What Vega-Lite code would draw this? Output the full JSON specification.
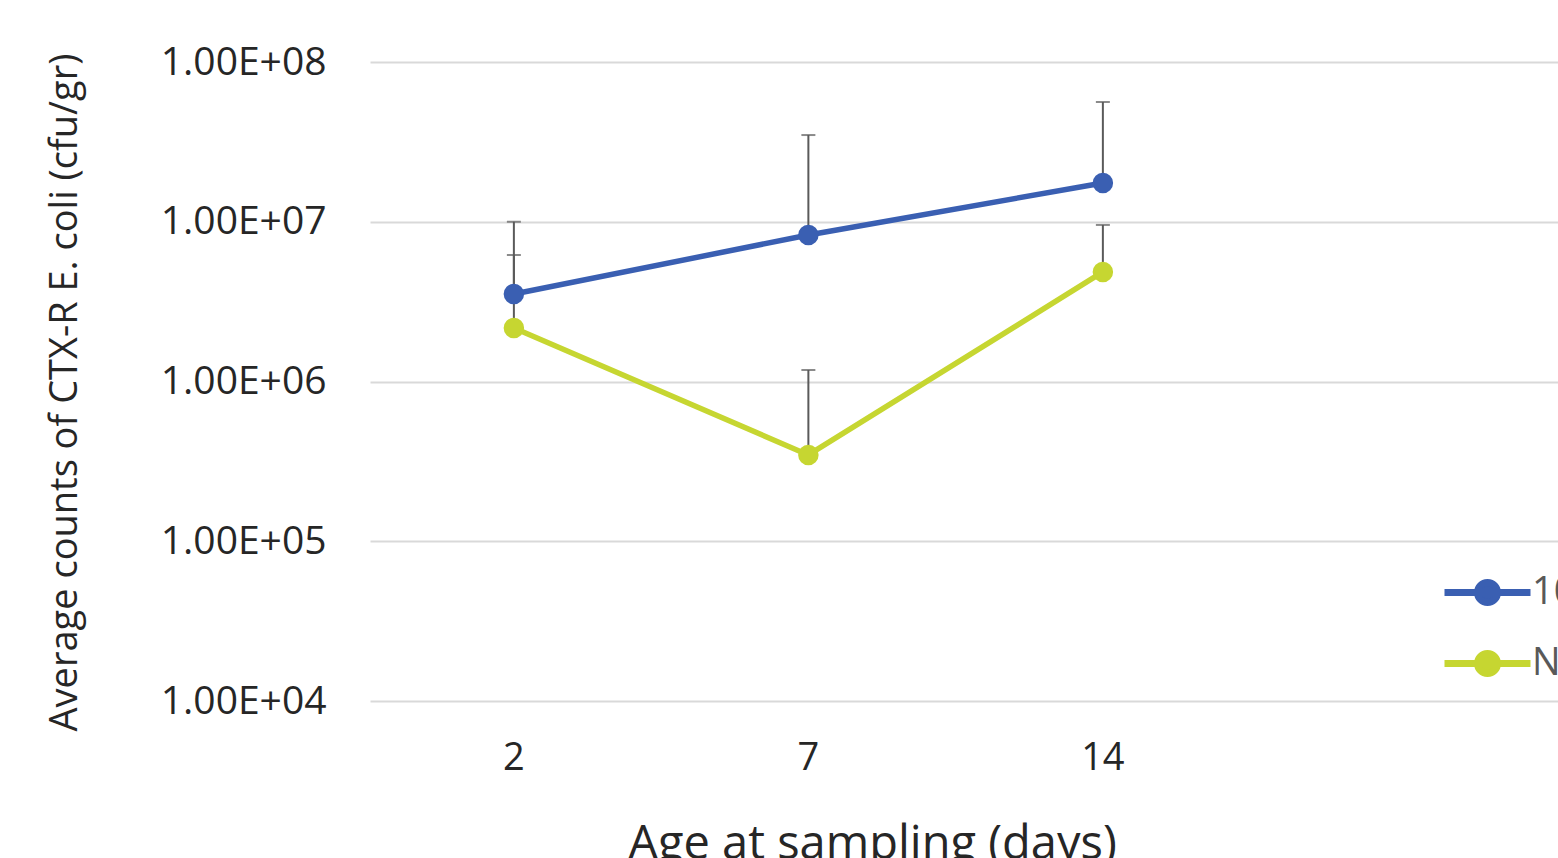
{
  "$schema": "https://vega.github.io/schema/vega-lite/v6.json",
  "autosize": {"type": "none"},
  "width": 1188,
  "height": 639,
  "padding": {"left": 370, "top": 62, "right": 0, "bottom": 157},
  "background": "white",
  "data": {"values": [
    {"day": "2", "group": "10⁴ CFU/g", "value": 3530000, "upper": 10000000},
    {"day": "7", "group": "10⁴ CFU/g", "value": 8260000, "upper": 34900000},
    {"day": "14", "group": "10⁴ CFU/g", "value": 17500000, "upper": 56200000},
    {"day": "2", "group": "NS", "value": 2160000, "upper": 6190000},
    {"day": "7", "group": "NS", "value": 347000, "upper": 1180000},
    {"day": "14", "group": "NS", "value": 4850000, "upper": 9550000}
  ]},
  "encoding": {
    "x": {
      "field": "day", "type": "ordinal", "sort": ["2", "7", "14"],
      "scale": {"type": "band", "paddingInner": 0.1, "paddingOuter": 0.567, "align": 0.034},
      "axis": {
        "title": "Age at sampling (days)", "labelAngle": 0, "domain": false, "ticks": false,
        "labelPadding": 38, "labelFontSize": 38, "labelColor": "#262626", "labelFont": "Open Sans",
        "titleFont": "Open Sans", "titleFontSize": 47, "titleFontWeight": "normal", "titleColor": "#262626",
        "titleX": 502, "titleY": 120, "titleAlign": "center", "titleBaseline": "top", "titleAnchor": null
      }
    }
  },
  "layer": [
    {
      "mark": {"type": "rule", "color": "#5a5a5a", "strokeWidth": 2},
      "encoding": {
        "y": {
          "field": "value", "type": "quantitative",
          "scale": {"type": "log", "domain": [10000, 100000000], "nice": false},
          "axis": {
            "title": "Average counts of CTX-R E. coli (cfu/gr)",
            "values": [10000, 100000, 1000000, 10000000, 100000000],
            "labelExpr": "'1.00E+0' + format(round(log(datum.value)/LN10), 'd')",
            "domain": false, "ticks": false, "grid": true, "gridColor": "#d9d9d9", "gridWidth": 2,
            "labelPadding": 44, "labelFontSize": 39, "labelColor": "#262626", "labelFont": "Open Sans",
            "titleFont": "Open Sans", "titleFontSize": 38, "titleFontWeight": "normal", "titleColor": "#262626",
            "titleAngle": -90, "titleX": -305, "titleY": 330, "titleAlign": "center", "titleBaseline": "middle", "titleAnchor": null
          }
        },
        "y2": {"field": "upper"}
      }
    },
    {
      "mark": {"type": "tick", "color": "#5a5a5a", "size": 14, "thickness": 2},
      "encoding": {"y": {"field": "upper", "type": "quantitative"}}
    },
    {
      "mark": {"type": "line", "strokeWidth": 5.5, "strokeCap": "round",
               "point": {"filled": true, "size": 420, "opacity": 1}},
      "encoding": {
        "y": {"field": "value", "type": "quantitative"},
        "color": {
          "field": "group", "type": "nominal",
          "scale": {"domain": ["10⁴ CFU/g", "NS"], "range": ["#3a5fb2", "#c6d631"]},
          "legend": {
            "title": null, "orient": "none", "legendX": 1071, "legendY": 484, "padding": 0,
            "symbolType": "M-1,0L1,0M-0.233,0a0.233,0.233 0 1,0 0.466,0a0.233,0.233 0 1,0 -0.466,0",
            "symbolSize": 7396, "symbolStrokeWidth": 7, "labelOffset": -2, "rowPadding": -25,
            "labelFontSize": 38, "labelFont": "Open Sans", "labelColor": "#595959"
          }
        }
      }
    }
  ],
  "config": {"view": {"stroke": null}}
}
